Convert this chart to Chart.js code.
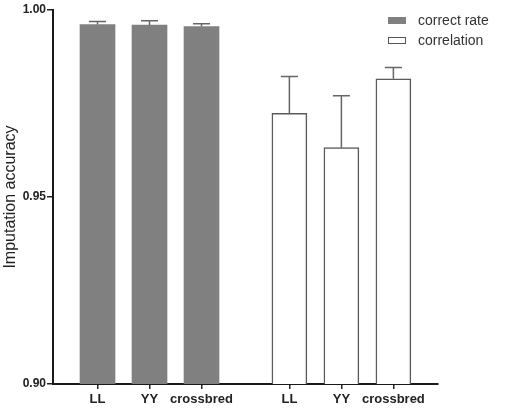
<!DOCTYPE html>
<html>
<head>
<meta charset="utf-8">
<script src="https://cdn.jsdelivr.net/npm/chart.js@4/dist/chart.umd.min.js"></script>
<style>
    html, body { margin: 0; padding: 0; background: #fff; }
    #wrap { width: 510px; height: 412px; }
</style>
</head>
<body>
<div id="wrap"><canvas id="chart" width="510" height="412"></canvas></div>
<script>
// Data
const categories = ["LL", "YY", "crossbred"];
const correctRate = [0.9961, 0.9960, 0.9956];
const correctRateErr = [0.0008, 0.0011, 0.0007];
const correlation = [0.9724, 0.9632, 0.9816];
const correlationErr = [0.0098, 0.0139, 0.0030];
const yTicks = [0.90, 0.95, 1.00];

// Layout of the two groups on the x axis (in category units)
const groupOffset = 3.69;
const xMin = 0.144;
const xMax = 7.548;

function groupPoints(values, group) {
    return values.map((v, i) => ({ x: 1 + i + group * groupOffset, y: v }));
}

const tickValues = categories.map((c, i) => 1 + i).concat(categories.map((c, i) => 1 + i + groupOffset));
const tickLabels = categories.concat(categories);

// Draw upper error whiskers from the data
const errorBars = {
    id: "errorBars",
    afterDatasetsDraw(chart) {
        const ctx = chart.ctx;
        const yScale = chart.scales.y;
        chart.data.datasets.forEach((ds, di) => {
            const meta = chart.getDatasetMeta(di);
            meta.data.forEach((bar, i) => {
                const top = yScale.getPixelForValue(ds.data[i].y + ds.errors[i]);
                ctx.save();
                ctx.strokeStyle = "#666";
                ctx.lineWidth = 1.5;
                ctx.beginPath();
                ctx.moveTo(bar.x, bar.y);
                ctx.lineTo(bar.x, top);
                ctx.moveTo(bar.x - 8.5, top);
                ctx.lineTo(bar.x + 8.5, top);
                ctx.stroke();
                ctx.restore();
            });
        });
    }
};

// Legend in the top right corner
const cornerLegend = {
    id: "cornerLegend",
    afterDraw(chart) {
        const ctx = chart.ctx;
        ctx.save();
        chart.data.datasets.forEach((ds, di) => {
            const y = 17 + di * 20;
            ctx.fillStyle = ds.backgroundColor;
            ctx.fillRect(388, y, 18, 7);
            if (ds.borderWidth) {
                ctx.strokeStyle = "#555";
                ctx.lineWidth = 1;
                ctx.strokeRect(388.5, y + 0.5, 17, 6);
            }
            ctx.fillStyle = "#333";
            ctx.font = "14px 'Liberation Sans', Arial, sans-serif";
            ctx.textBaseline = "middle";
            ctx.fillText(ds.label, 418, y + 4);
        });
        ctx.restore();
    }
};

new Chart(document.getElementById("chart"), {
    type: "bar",
    data: {
        datasets: [
            {
                label: "correct rate",
                data: groupPoints(correctRate, 0),
                errors: correctRateErr,
                backgroundColor: "#808080",
                borderWidth: 0
            },
            {
                label: "correlation",
                data: groupPoints(correlation, 1),
                errors: correlationErr,
                backgroundColor: "#ffffff",
                borderColor: "#5a5a5a",
                borderWidth: 1.5
            }
        ]
    },
    options: {
        responsive: false,
        animation: false,
        layout: { padding: { top: 10, right: 72, bottom: 0, left: 0 } },
        datasets: { bar: { barThickness: 35, grouped: false } },
        plugins: {
            legend: { display: false },
            tooltip: { enabled: false }
        },
        scales: {
            x: {
                type: "linear",
                min: xMin,
                max: xMax,
                offset: false,
                afterBuildTicks: scale => { scale.ticks = tickValues.map(v => ({ value: v })); },
                afterFit: scale => { scale.height = 28; },
                ticks: {
                    callback: (value, index) => tickLabels[index],
                    color: "#222",
                    font: { family: "'Liberation Sans', Arial, sans-serif", size: 13, weight: "bold" },
                    padding: 3,
                    maxRotation: 0,
                    autoSkip: false
                },
                grid: { offset: false, drawOnChartArea: false, tickLength: 5, color: "#222", tickColor: "#222", lineWidth: 1.5 },
                border: { color: "#1a1a1a", width: 2 }
            },
            y: {
                min: 0.90,
                max: 1.00,
                afterBuildTicks: scale => { scale.ticks = yTicks.map(v => ({ value: v })); },
                afterFit: scale => { scale.width = 53; },
                ticks: {
                    callback: value => value.toFixed(2),
                    color: "#222",
                    font: { family: "'Liberation Sans', Arial, sans-serif", size: 12, weight: "bold" },
                    padding: 1
                },
                grid: { drawOnChartArea: false, tickLength: 6, color: "#222", lineWidth: 1.5 },
                border: { color: "#1a1a1a", width: 2 },
                title: {
                    display: true,
                    text: "Imputation accuracy",
                    color: "#222",
                    font: { family: "'Liberation Sans', Arial, sans-serif", size: 16 },
                    padding: { top: 1, bottom: 2 }
                }
            }
        }
    },
    plugins: [errorBars, cornerLegend]
});
</script>
</body>
</html>
